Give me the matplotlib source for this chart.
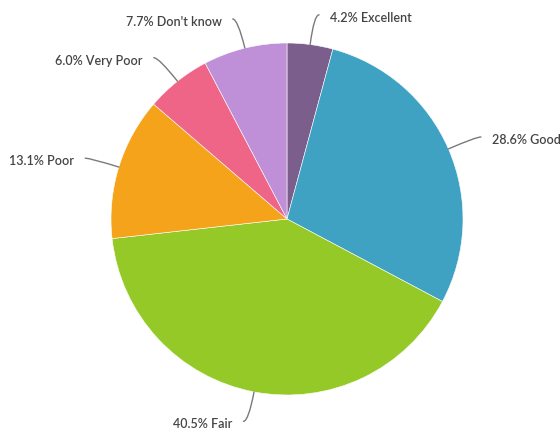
import numpy as np
import matplotlib
matplotlib.use('Agg')
import matplotlib.pyplot as plt
from matplotlib.path import Path
from matplotlib.patches import PathPatch

# survey answers, clockwise from the top
categories = ['Excellent', 'Good', 'Fair', 'Poor', 'Very Poor', "Don't know"]
shares = [4.2, 28.6, 40.5, 13.1, 6.0, 7.7]
colors = ['#7b5e8c', '#3fa2c3', '#95c928', '#f5a31b', '#ef6587', '#bf8fd8']

W, H = 560, 430
cx, cy, r = 287, 219, 176
distance = 30      # label distance outside the pie
pad = 5            # connector padding
gap = 11           # space between connector end and text

plt.rcParams['font.family'] = ['Lato', 'DejaVu Sans']

fig = plt.figure(figsize=(W / 100, H / 100), dpi=100)
ax = fig.add_axes([0, 0, 1, 1])

# y axis points down (pixel coordinates), so counterclock from -90 is clockwise from the top
wedges, _ = ax.pie(shares, colors=colors, startangle=-90, counterclock=True,
                   center=(cx, cy), radius=r,
                   wedgeprops=dict(edgecolor='white', linewidth=0.4))

for wedge, cat, val in zip(wedges, categories, shares):
    mid = np.deg2rad((wedge.theta1 + wedge.theta2) / 2)
    ex, ey = cx + r * np.cos(mid), cy + r * np.sin(mid)
    R = r + distance
    ly = cy + R * np.sin(mid)
    dy = ly - cy
    dx = np.sqrt(max(R ** 2 - dy ** 2, 0))
    right = np.cos(mid) >= 0
    lx = cx + dx + pad if right else cx - dx - pad
    # control point: horizontal line through the label meets the radial line through the edge point
    if abs(np.sin(mid)) > 1e-6:
        t = (ly - ey) / np.sin(mid)
        kx = ex + t * np.cos(mid)
    else:
        kx = lx
    verts = [(lx, ly), (kx, ly), (ex, ey)]
    codes = [Path.MOVETO, Path.CURVE3, Path.CURVE3]
    ax.add_patch(PathPatch(Path(verts, codes), fill=False, edgecolor='#7a7a7a',
                           linewidth=1, capstyle='round'))
    tx = lx + gap if right else lx - gap
    ax.text(tx, ly + 3, f'{val:.1f}% {cat}', ha='left' if right else 'right',
            va='center', fontsize=9, fontweight='semibold', color='#444444')

ax.set_xlim(0, W)
ax.set_ylim(H, 0)
ax.set_aspect('equal')
ax.axis('off')

fig.savefig('out.png', dpi=100)
